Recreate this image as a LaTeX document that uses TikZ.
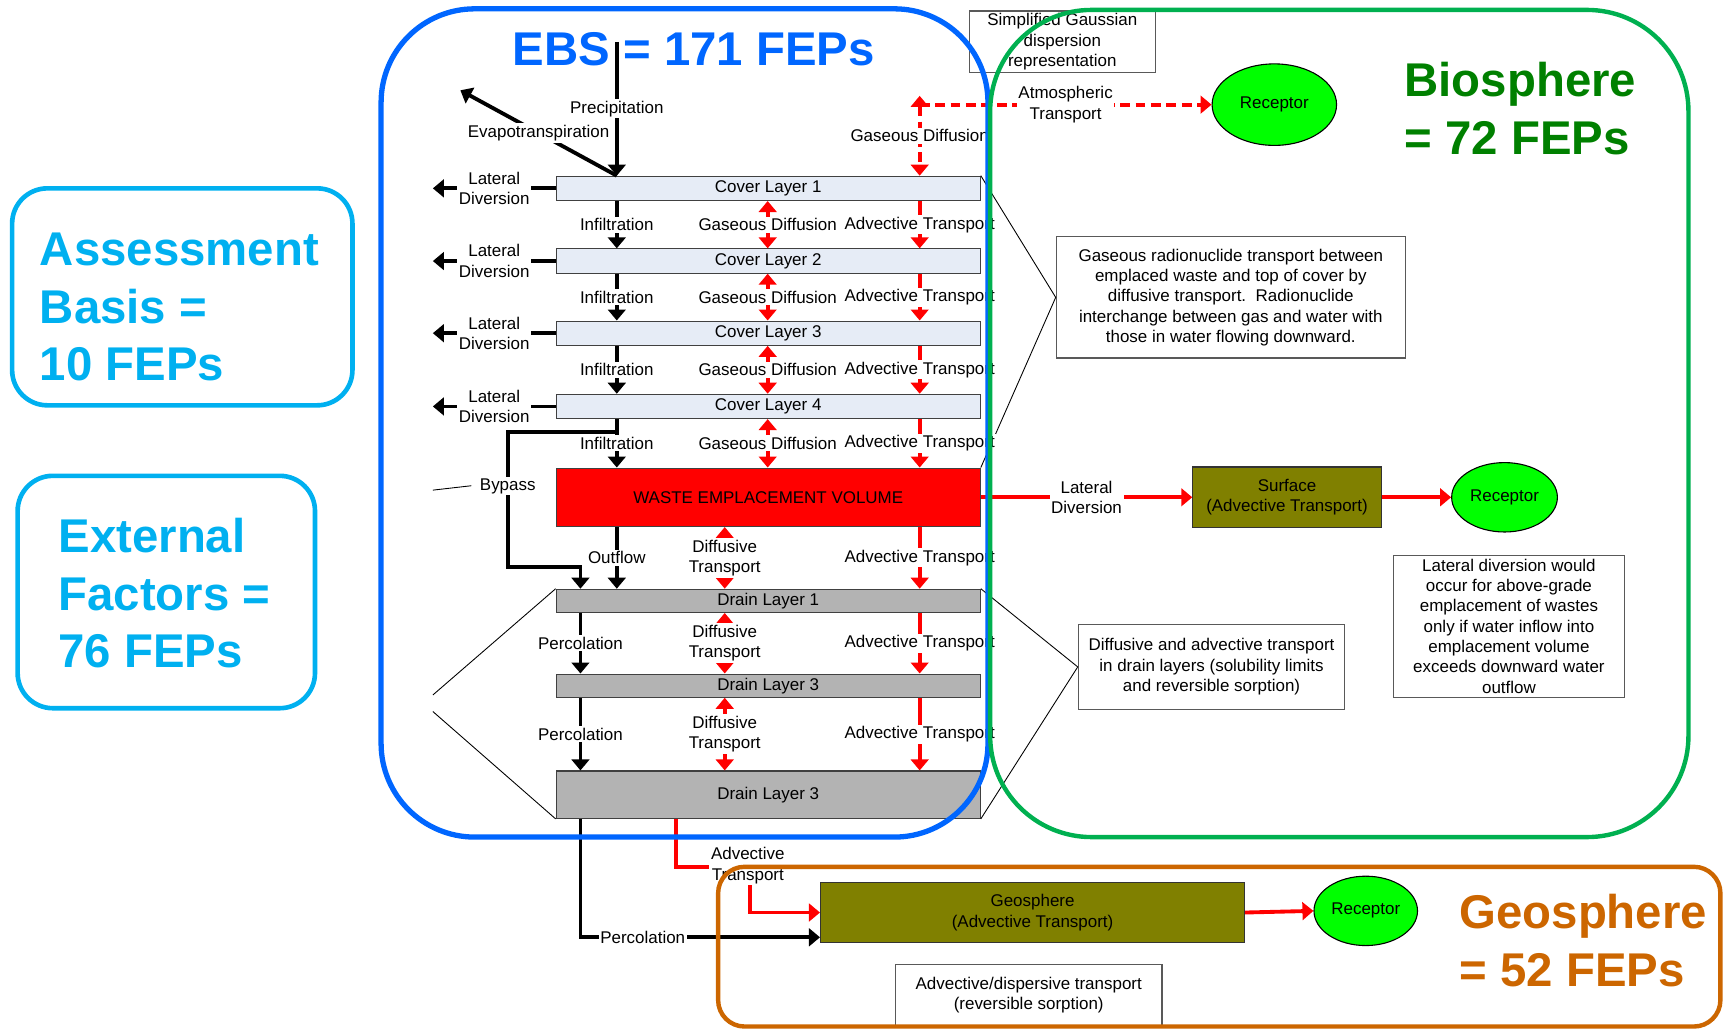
\documentclass[tikz,border=0pt]{standalone}
\usepackage{fontspec}
\setmainfont{Liberation Sans}
\usetikzlibrary{arrows.meta,shapes.geometric}
\definecolor{ebsblue}{RGB}{0,102,255}
\definecolor{bioframe}{RGB}{0,176,80}
\definecolor{biotext}{RGB}{0,128,0}
\definecolor{geoorange}{RGB}{204,102,0}
\definecolor{cyanfep}{RGB}{0,176,240}
\definecolor{coverfill}{RGB}{230,236,246}
\definecolor{drainfill}{RGB}{179,179,179}
\definecolor{olivebox}{RGB}{128,128,0}
\definecolor{recgreen}{RGB}{0,255,0}
\definecolor{arrred}{RGB}{255,0,0}
\newcommand\mylbl{\fontsize{15.4}{18.5}\selectfont}
\newcommand\mybig{\fontsize{43}{52.5}\selectfont\bfseries}
\begin{document}
\begin{tikzpicture}[x=1pt,y=-1pt,
  layerbox/.style={draw=black!75, line width=1pt, minimum width=385pt, inner sep=0pt, font=\mylbl},
  coverbox/.style={layerbox, fill=coverfill, minimum height=22pt},
  drainbox/.style={layerbox, fill=drainfill},
  blkarrow/.style={line width=3.5pt, draw=black, -{Triangle[length=10pt,width=16pt]}},
  redarrow/.style={line width=3.5pt, draw=arrred, -{Triangle[length=10pt,width=16pt]}},
  redboth/.style={line width=3.5pt, draw=arrred, {Triangle[length=10pt,width=16pt]}-{Triangle[length=10pt,width=16pt]}},
  reddash/.style={line width=3.5pt, draw=arrred, dash pattern=on 9pt off 5pt},
  lab/.style={fill=white, inner sep=1.5pt, font=\mylbl, align=center},
  notebox/.style={draw=black!65, line width=1pt, fill=white, align=center, font=\mylbl, inner sep=0pt},
  callout/.style={draw=black, line width=0.8pt},
  receptor/.style={ellipse, draw=black, line width=1pt, fill=recgreen, font=\mylbl, inner sep=0pt},
  olive/.style={draw=black!80, line width=1pt, fill=olivebox, font=\mylbl, align=center, inner sep=0pt},
  bigtitle/.style={font=\mybig, inner sep=0pt, align=left},
]
\useasboundingbox (0,0) rectangle (1568,935.2);

% coordinates for columns
\coordinate (xI) at (560,0);
\coordinate (xG) at (697,0);
\coordinate (xA) at (835,0);
\coordinate (xP) at (527,0);
\coordinate (xD) at (658,0);
\coordinate (xL) at (393,0);
\coordinate (xR) at (614,0);
\coordinate (yPerc) at (0,851);

% titles
\node[bigtitle, text=ebsblue, anchor=north] (ebsT) at (630,29) {EBS = 171 FEPs};
\node[bigtitle, text=biotext, anchor=north west] (bioT) at (1275,56) {Biosphere\\= 72 FEPs};
\node[bigtitle, text=geoorange, anchor=north west] (geoT) at (1325,812) {Geosphere\\= 52 FEPs};
\node[bigtitle, text=cyanfep, anchor=north west] (assT) at (36,211) {Assessment\\Basis =\\10 FEPs};
\node[bigtitle, text=cyanfep, anchor=north west] (extT) at (53,470) {External\\Factors =\\76 FEPs};

% layers
\node[coverbox] (CL1) at (697.5,171) {Cover Layer 1};
\node[coverbox] (CL2) at (697.5,237) {Cover Layer 2};
\node[coverbox] (CL3) at (697.5,302.5) {Cover Layer 3};
\node[coverbox] (CL4) at (697.5,369) {Cover Layer 4};
\node[layerbox, fill=red, minimum height=53pt] (WEV) at (697.5,451.5) {WASTE EMPLACEMENT VOLUME};
\node[drainbox, minimum height=21pt] (DL1) at (697.5,545.5) {Drain Layer 1};
\node[drainbox, minimum height=21pt] (DL2) at (697.5,622.5) {Drain Layer 3};
\node[drainbox, minimum height=43pt] (DL3) at (697.5,721.5) {Drain Layer 3};

% notes
\node[notebox, minimum width=317pt, minimum height=110pt] (GasNote) at (1117.5,270) {Gaseous radionuclide transport between\\emplaced waste and top of cover by\\diffusive transport.~~Radionuclide\\interchange between gas and water with\\those in water flowing downward.};
\node[notebox, minimum width=242pt, minimum height=77pt] (DiffNote) at (1100,605.5) {Diffusive and advective transport\\in drain layers (solubility limits\\and reversible sorption)};
\node[notebox, minimum width=210pt, minimum height=129pt] (LatNote) at (1370,568.5) {Lateral diversion would\\occur for above-grade\\emplacement of wastes\\only if water inflow into\\emplacement volume\\exceeds downward water\\outflow};
\node[notebox, minimum width=169pt, minimum height=56pt] (GaussNote) at (964.5,38) {Simplified Gaussian\\dispersion\\representation};
\node[notebox, minimum width=242pt, minimum height=55pt] (AdvNote) at (934,903.5) {Advective/dispersive transport\\(reversible sorption)};

% olive boxes and receptors
\node[olive, minimum width=171pt, minimum height=55pt] (Surf) at (1168.5,451.5) {Surface\\(Advective Transport)};
\node[olive, minimum width=385pt, minimum height=55pt] (Geo) at (937.5,828.5) {Geosphere\\(Advective Transport)};
\node[receptor, minimum width=113pt, minimum height=74pt] (RecTop) at (1157,95) {Receptor};
\node[receptor, minimum width=96pt, minimum height=63pt] (RecMid) at (1366,451.5) {Receptor};
\node[receptor, minimum width=94pt, minimum height=63pt] (RecBot) at (1240,827) {Receptor};

% callouts
\draw[callout] (CL1.north east) -- (GasNote.west) -- (WEV.north east);
\draw[callout] (DL1.north east) -- (DiffNote.west) -- (DL3.south east);
\coordinate (lcA) at (393,631);
\coordinate (lcB) at (393,646);
\draw[callout] (DL1.north west) -- (lcA);
\draw[callout] (lcB) -- (DL3.south west);

% precipitation / evapotranspiration
\coordinate (precTop) at (560,38);
\coordinate (evapEnd) at (418,82);
\draw[blkarrow] (precTop) -- node[lab]{Precipitation} (CL1.north -| xI);
\draw[blkarrow] (CL1.north -| xI) -- node[lab]{Evapotranspiration} (evapEnd);

% atmospheric
\coordinate (atmTip) at (835,87);
\coordinate (atmC) at (835,95);
\draw[reddash, {Triangle[length=10pt,width=16pt]}-{Triangle[length=10pt,width=16pt]}] (atmTip) -- node[lab]{Gaseous Diffusion} (CL1.north -| xA);
\draw[reddash, -{Triangle[length=10pt,width=16pt]}] (atmC) -- node[lab]{Atmospheric\\Transport} (RecTop.west);

% lateral diversions
\foreach \c in {CL1,CL2,CL3,CL4} {
  \draw[blkarrow] (\c.west) -- node[lab]{Lateral\\Diversion} (\c.west -| xL);
}

% between cover layers
\foreach \a/\b in {CL1/CL2,CL2/CL3,CL3/CL4,CL4/WEV} {
  \draw[blkarrow] (\a.south -| xI) -- node[lab]{Infiltration} (\b.north -| xI);
  \draw[redboth] (\a.south -| xG) -- node[lab]{Gaseous Diffusion} (\b.north -| xG);
  \draw[redarrow] (\a.south -| xA) -- node[lab]{Advective Transport} (\b.north -| xA);
}

% bypass
\draw[blkarrow] (CL4.south -| xI) -- (560,392) -- (461,392) -- node[lab, pos=0.4] (bypassL) {Bypass} (461,515) -- (527,515) -- (DL1.north -| xP);
\coordinate (bpA) at (393,445);
\coordinate (bpB) at (428,441);
\draw[callout] (bpA) -- (bpB);

% below WEV
\draw[blkarrow] (WEV.south -| xI) -- node[lab]{Outflow} (DL1.north -| xI);
\draw[redboth] (WEV.south -| xD) -- node[lab]{Diffusive\\Transport} (DL1.north -| xD);
\draw[redarrow] (WEV.south -| xA) -- node[lab]{Advective Transport} (DL1.north -| xA);

% between drain layers
\foreach \a/\b in {DL1/DL2,DL2/DL3} {
  \draw[blkarrow] (\a.south -| xP) -- node[lab]{Percolation} (\b.north -| xP);
  \draw[redboth] (\a.south -| xD) -- node[lab]{Diffusive\\Transport} (\b.north -| xD);
  \draw[redarrow] (\a.south -| xA) -- node[lab]{Advective Transport} (\b.north -| xA);
}

% lateral to surface
\draw[redarrow] (WEV.east) -- node[lab]{Lateral\\Diversion} (Surf.west);
\draw[redarrow] (Surf.east) -- (RecMid.west);
\draw[redarrow] (Geo.east) -- (RecBot.west);

% to geosphere
\draw[redarrow] (DL3.south -| xR) -- (614,787) -- (681,787) |- (Geo.west);
\node[lab] (advGeoL) at (679,786) {Advective\\Transport};
\draw[blkarrow] (DL3.south -| xP) |- node[lab, pos=0.63]{Percolation} (Geo.west |- yPerc);

% frames
\draw[line width=4.8pt, draw=ebsblue, rounded corners=85pt] (346,8) rectangle (897,760);
\draw[line width=4pt, draw=bioframe, rounded corners=92pt] (899,9) rectangle (1533,760);
\draw[line width=4pt, draw=geoorange, rounded corners=24pt] (652,787) rectangle (1562,932);
\draw[line width=4.2pt, draw=cyanfep, rounded corners=32pt] (11,171) rectangle (320,368);
\draw[line width=4.2pt, draw=cyanfep, rounded corners=32pt] (16,432) rectangle (286,643);
\end{tikzpicture}
\end{document}
